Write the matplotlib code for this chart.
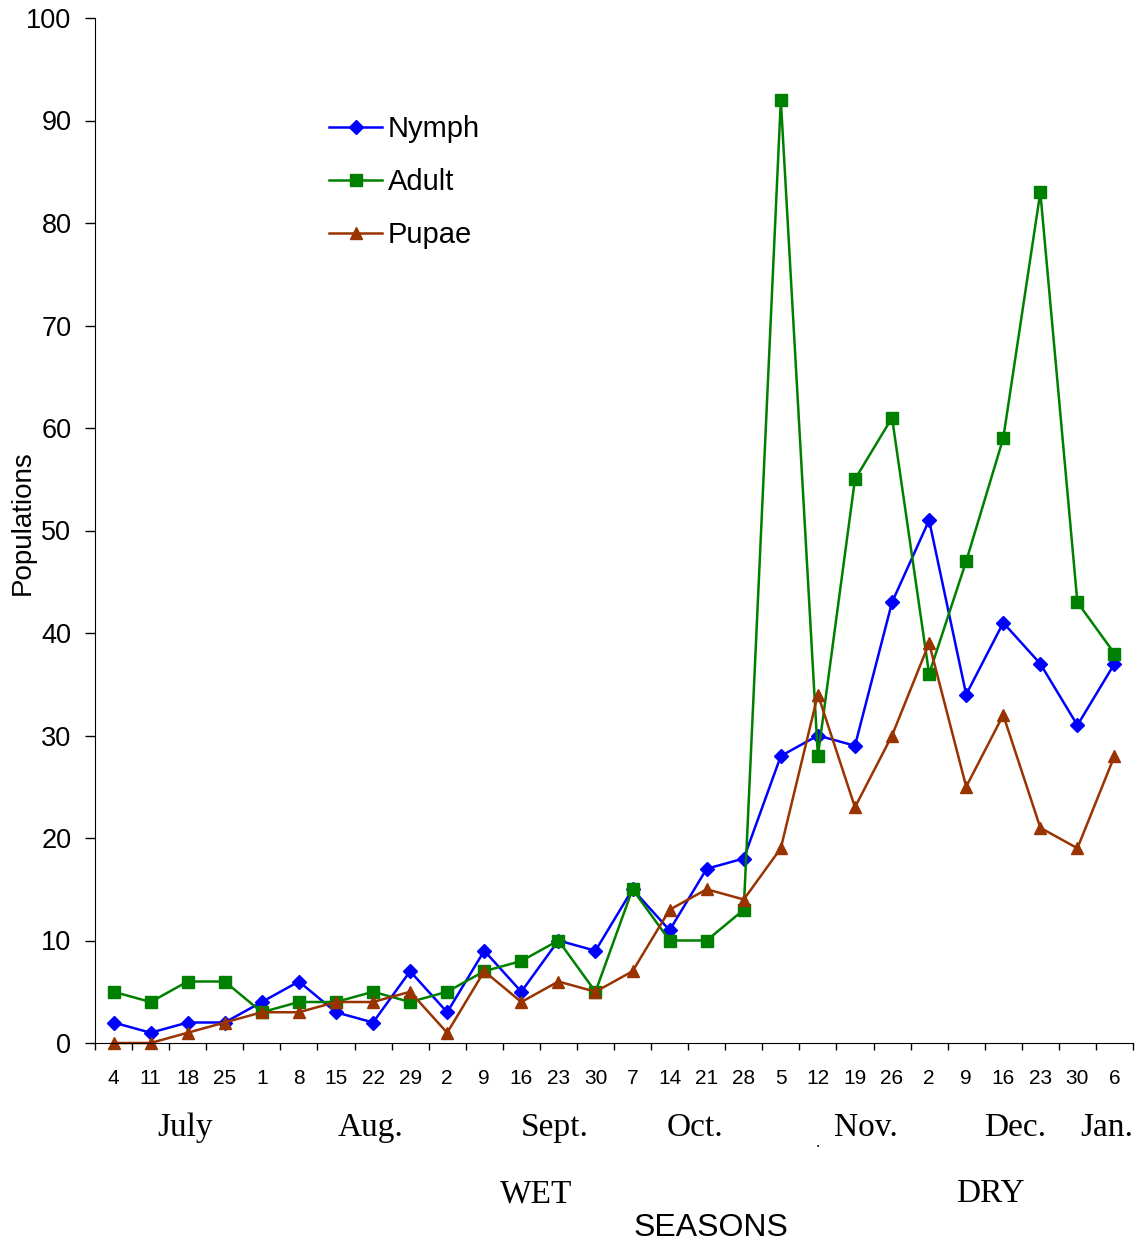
import matplotlib
matplotlib.use('Agg')
import matplotlib.pyplot as plt
import numpy as np

# sampling dates (day of month), one per week
dates = ["4", "11", "18", "25", "1", "8", "15", "22", "29", "2", "9", "16", "23", "30",
         "7", "14", "21", "28", "5", "12", "19", "26", "2", "9", "16", "23", "30", "6"]

nymph = [2, 1, 2, 2, 4, 6, 3, 2, 7, 3, 9, 5, 10, 9,
         15, 11, 17, 18, 28, 30, 29, 43, 51, 34, 41, 37, 31, 37]
adult = [5, 4, 6, 6, 3, 4, 4, 5, 4, 5, 7, 8, 10, 5,
         15, 10, 10, 13, 92, 28, 55, 61, 36, 47, 59, 83, 43, 38]
pupae = [0, 0, 1, 2, 3, 3, 4, 4, 5, 1, 7, 4, 6, 5,
         7, 13, 15, 14, 19, 34, 23, 30, 39, 25, 32, 21, 19, 28]

months = ["July", "Aug.", "Sept.", "Oct.", "Nov.", "Dec.", "Jan."]
month_px = [185, 371, 555, 695, 866, 1015, 1107]
seasons = ["WET", "DRY"]
season_px = [536, 990]

W, H = 1143, 1246
fig = plt.figure(figsize=(W / 100, H / 100), dpi=100)
ax = fig.add_axes([95 / W, 1 - 1043 / H, (1133 - 95) / W, (1043 - 18) / H])

x = np.arange(len(dates))
ax.plot(x, nymph, color="#0000FF", marker="D", markersize=7, lw=1.8,
        label="Nymph", clip_on=False)
ax.plot(x, adult, color="#008000", marker="s", markersize=8, lw=1.8,
        label="Adult", clip_on=False)
ax.plot(x, pupae, color="#993300", marker="^", markersize=8.5, lw=1.8,
        label="Pupae", clip_on=False)

ax.set_xlim(-0.5, len(dates) - 0.5)
ax.set_ylim(0, 100)
ax.set_yticks(range(0, 101, 10))
ax.tick_params(axis="y", direction="out", length=7, width=1, labelsize=19.5,
               pad=10)
for lab in ax.get_yticklabels():
    lab.set_family("Liberation Sans")

# category labels at the centres, tick marks at the boundaries
ax.set_xticks(x)
ax.set_xticklabels(dates, family="Liberation Sans", fontsize=15)
ax.tick_params(axis="x", which="major", length=0, pad=19)
ax.set_xticks(np.arange(-0.5, len(dates), 1.0), minor=True)
ax.tick_params(axis="x", which="minor", direction="out", length=5, width=1)

for side in ["top", "right"]:
    ax.spines[side].set_visible(False)

# y label placed by hand so it sits in the narrow left margin
fig.text(23 / W, 1 - 523 / H, "Populations", family="Liberation Sans",
         fontsize=20, rotation=90, ha="center", va="center")

leg = ax.legend(loc="upper left", bbox_to_anchor=(303 / W, 1 - 89 / H),
                bbox_transform=fig.transFigure, frameon=False,
                prop={"family": "Liberation Sans", "size": 21},
                handlelength=1.8, handletextpad=0.2, labelspacing=0.85)

for name, px in zip(months, month_px):
    fig.text(px / W, 1 - 1128 / H, name, family="Liberation Serif", fontsize=24,
             ha="center", va="center")
for name, px in zip(seasons, season_px):
    fig.text(px / W, 1 - 1194 / H, name, family="Liberation Serif", fontsize=24,
             ha="center", va="center")
fig.text(818 / W, 1 - 1143 / H, ".", family="Liberation Serif", fontsize=12,
         ha="center", va="center")
fig.text(711 / W, 1 - 1228 / H, "SEASONS", family="Liberation Sans", fontsize=23,
         ha="center", va="center")

fig.savefig("out.png", dpi=100)
plt.close(fig)
